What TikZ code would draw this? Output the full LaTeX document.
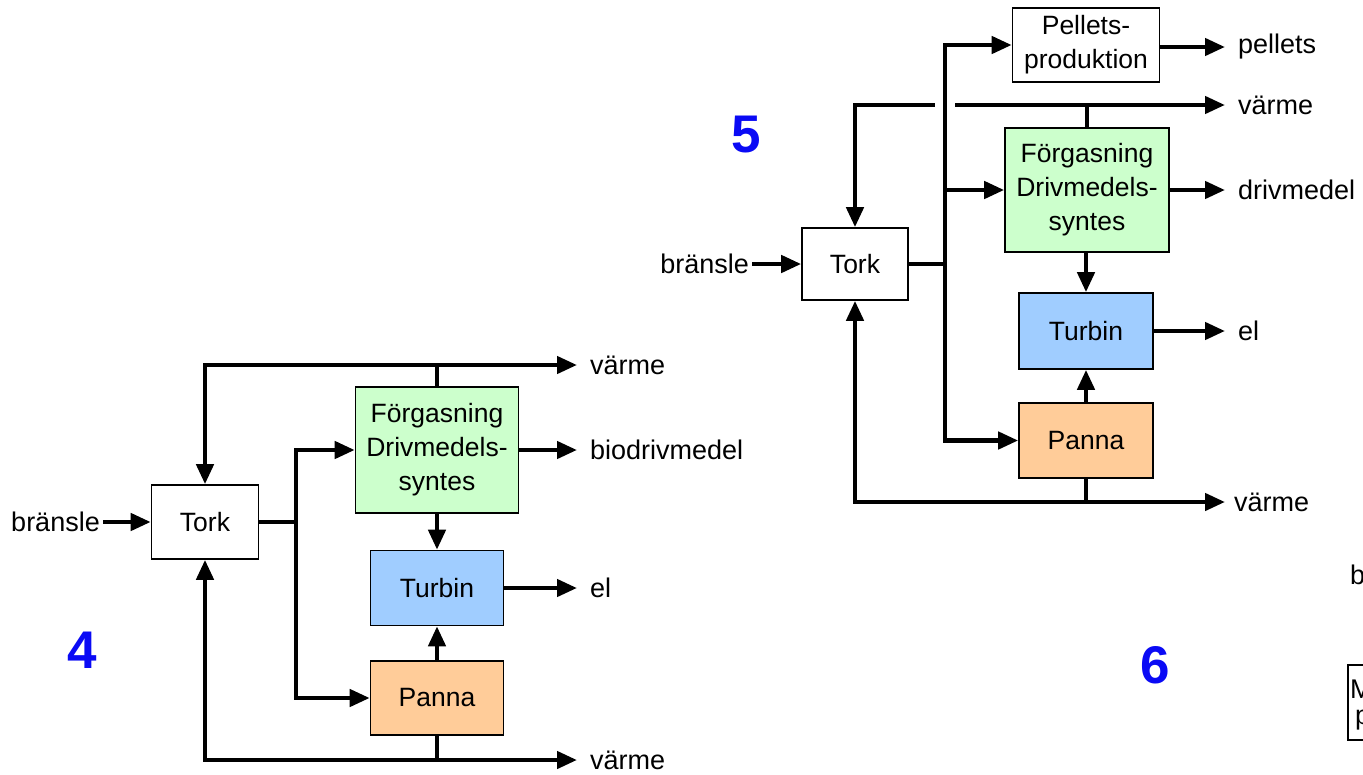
\documentclass[tikz,border=0pt]{standalone}
\usepackage{fontspec}
\setmainfont{Liberation Sans}
\usetikzlibrary{arrows.meta}
\definecolor{boxgreen}{RGB}{204,255,204}
\definecolor{boxblue}{RGB}{160,205,255}
\definecolor{boxorange}{RGB}{255,204,153}
\definecolor{numblue}{RGB}{10,10,245}
\tikzset{
  flow/.style={line width=4.4pt},
  arr/.style={flow,-{Triangle[length=20pt,width=17pt]}},
  arrb/.style={flow,{Triangle[length=20pt,width=17pt]}-{Triangle[length=20pt,width=17pt]}},
  arrs/.style={flow,{Triangle[length=20pt,width=17pt]}-},
  blk/.style={draw,line width=1.6pt,minimum width=#1,inner sep=0pt,align=center,
    font=\fontsize{26.5}{34}\selectfont},
  outl/.style={anchor=west,inner xsep=13pt,inner ysep=0pt,font=\fontsize{27}{34}\selectfont},
  inl/.style={anchor=east,inner xsep=3pt,inner ysep=0pt,font=\fontsize{27}{34}\selectfont},
  num/.style={font=\fontsize{53}{60}\selectfont\bfseries,text=numblue},
  plain/.style={inner sep=0pt,font=\fontsize{27}{34}\selectfont}
}
\begin{document}
\begin{tikzpicture}[x=1pt,y=-1pt]
\useasboundingbox (0,0) rectangle (1363,774);
\clip (0,0) rectangle (1363,774);
\fill[white] (0,0) rectangle (1363,774);

% ---------------- Diagram 4 ----------------
\node[blk=107pt,minimum height=74pt] (tork4) at (205,522) {Tork};
\node[blk=163pt,minimum height=126pt,fill=boxgreen] (f4) at (437,450) {Förgasning\\Drivmedels-\\syntes};
\node[blk=133pt,minimum height=75pt,fill=boxblue] (tu4) at (437,588) {Turbin};
\node[blk=133pt,minimum height=74pt,fill=boxorange] (pa4) at (437,698) {Panna};
\node[inl] (br4) at (103,522) {bränsle};
\node[outl] (v4t) at (577,365) {värme};
\node[outl] (bd4) at (577,450) {biodrivmedel};
\node[outl] (el4) at (577,588) {el};
\node[outl] (v4b) at (577,760) {värme};
\node[num] (n4) at (82,650) {4};
\coordinate (j4) at (296,522);

\draw[arr] (br4.east) -- (tork4.west);
\draw[flow] (tork4.east) -- (j4);
\draw[arr] (j4) |- (f4.west);
\draw[arr] (j4) |- (pa4.west);
\draw[arr] (f4.east) -- (bd4.west);
\draw[arr] (tu4.east) -- (el4.west);
\draw[arr] (f4.south) -- (tu4.north);
\draw[arr] (pa4.north) -- (tu4.south);
\draw[arrb] (tork4.north) |- (v4t.west);
\draw[flow] (f4.north) -- (f4.north |- v4t.west);
\draw[arrb] (tork4.south) |- (v4b.west);
\draw[flow] (pa4.south) -- (pa4.south |- v4b.west);

% ---------------- Diagram 5 ----------------
\node[blk=106pt,minimum height=72pt] (tork5) at (855,264) {Tork};
\node[blk=147pt,minimum height=74pt] (pel) at (1086,45) {Pellets-\\produktion};
\node[blk=164pt,minimum height=124pt,fill=boxgreen] (f5) at (1087,190) {Förgasning\\Drivmedels-\\syntes};
\node[blk=134pt,minimum height=76pt,fill=boxblue] (tu5) at (1086,331) {Turbin};
\node[blk=134pt,minimum height=75pt,fill=boxorange] (pa5) at (1086,440.5) {Panna};
\node[inl] (br5) at (752,264) {bränsle};
\node[outl] (pl5) at (1225,47) {pellets};
\node[outl] (v5t) at (1225,105) {värme};
\node[outl] (dm5) at (1225,190) {drivmedel};
\node[outl] (el5) at (1225,331) {el};
\node[outl,inner xsep=9pt] (v5b) at (1225,502) {värme};
\node[num] (n5) at (746,135) {5};
\coordinate (j5) at (945,264);
\coordinate (g5a) at (935,105);
\coordinate (g5b) at (955,105);

\draw[arr] (br5.east) -- (tork5.west);
\draw[flow] (tork5.east) -- (j5);
\draw[arr] (j5) |- (pel.west);
\draw[arr] (j5) |- (f5.west);
\draw[arr] (j5) |- (pa5.west);
\draw[arr] (pel.east |- pl5.west) -- (pl5.west);
\draw[arr] (f5.east) -- (dm5.west);
\draw[arr] (tu5.east) -- (el5.west);
\draw[arr] (f5.south -| tu5.north) -- (tu5.north);
\draw[arr] (pa5.north) -- (tu5.south);
\draw[arrs] (tork5.north) |- (g5a);
\draw[arr] (g5b) -- (v5t.west);
\draw[flow] (f5.north) -- (f5.north |- v5t.west);
\draw[arrb] (tork5.south) |- (v5b.west);
\draw[flow] (pa5.south) -- (pa5.south |- v5b.west);

% ---------------- Diagram 6 (cut off at the edge, as in the reference) ----------------
\node[num] (n6) at (1155,665) {6};
\node[plain,anchor=west] (b6) at (1350,575) {b};
\node[draw,line width=1.6pt,minimum width=80pt,minimum height=75pt,anchor=north west] (m6) at (1347,664) {};
\node[plain,anchor=west] (m6a) at (1350,689) {M};
\node[plain,anchor=west] (m6b) at (1355,720) {p};
\end{tikzpicture}
\end{document}
